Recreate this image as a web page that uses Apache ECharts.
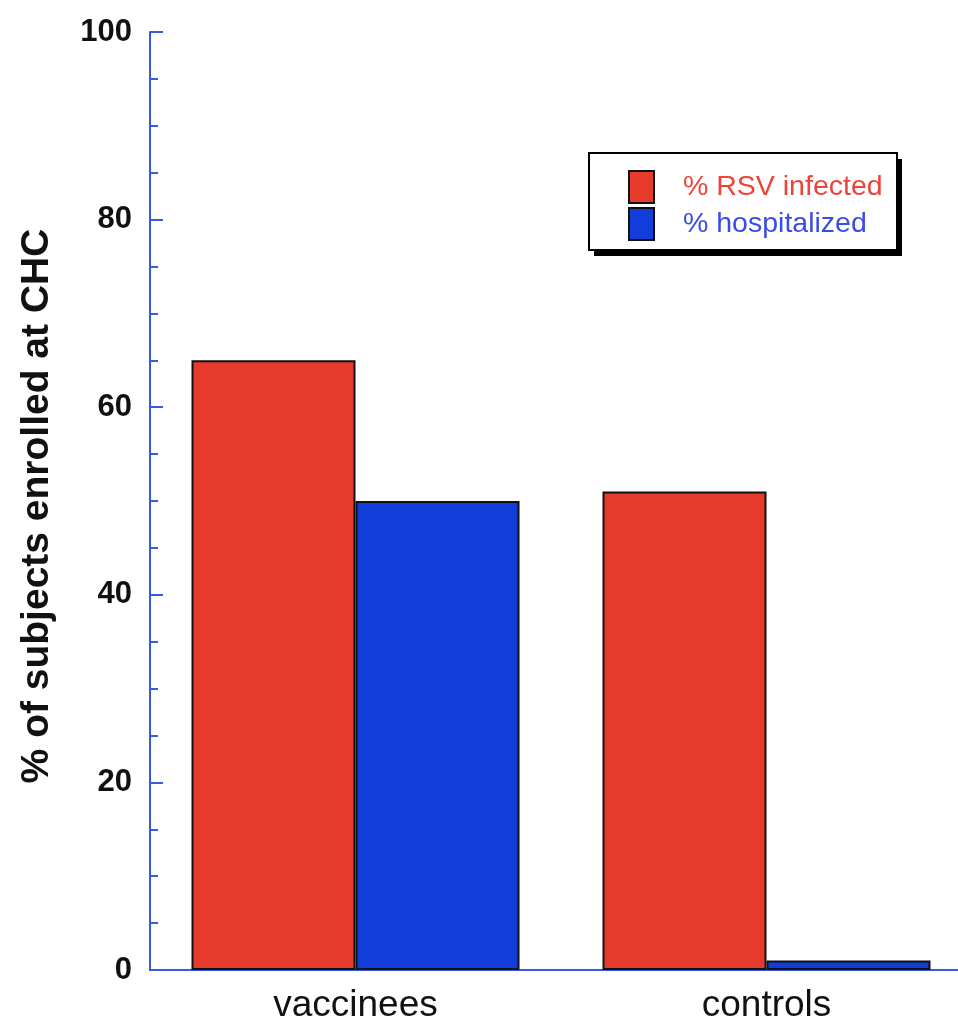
<!DOCTYPE html>
<html><head><meta charset="utf-8">
<script src="https://cdn.jsdelivr.net/npm/echarts@6/dist/echarts.min.js"></script>
<style>html,body{margin:0;padding:0;background:#fff}#c{width:958px;height:1021px}</style>
</head><body><div id="c"></div>
<script>
const categories = ['vaccinees', 'controls'];
const seriesNames = ['% RSV infected', '% hospitalized'];
const rsvInfected = [65, 51];
const hospitalized = [50, 1];
const yTicks = { min: 0, max: 100, interval: 20 };
const yTitle = '% of subjects enrolled at CHC';

const RED = '#e53a2c', BLUE = '#133ddb', AXIS = '#3858e8';
const FONT = 'Liberation Sans, Arial, sans-serif';
const chart = echarts.init(document.getElementById('c'));
chart.setOption({
  animation: false,
  backgroundColor: '#fff',
  grid: { left: 150, top: 32, bottom: 51, width: 822, containLabel: false, outerBoundsMode: 'none' },
  graphic: [
    { type: 'rect', z: 90, shape: { x: 594, y: 159, width: 308, height: 97 }, style: { fill: '#000' } },
    { type: 'rect', z: 91, shape: { x: 589, y: 153, width: 308, height: 97 }, style: { fill: '#fff', stroke: '#000', lineWidth: 2 } }
  ],
  legend: {
    orient: 'vertical', left: 628, top: 170, padding: 0, z: 100,
    itemWidth: 25, itemHeight: 32, itemGap: 3, itemTextGap: 29,
    icon: 'rect',
    textStyle: { fontFamily: FONT, fontSize: 28.5, padding: [0, 0, 0, 24] },
    data: [
      { name: seriesNames[0], textStyle: { color: '#ec4438' } },
      { name: seriesNames[1], textStyle: { color: '#3a4ce6' } }
    ]
  },
  xAxis: {
    type: 'category', data: categories,
    axisLine: { lineStyle: { color: AXIS, width: 2 } },
    axisTick: { show: false },
    axisLabel: { color: '#111', fontSize: 37, fontFamily: FONT, margin: 17 }
  },
  yAxis: {
    type: 'value', min: yTicks.min, max: yTicks.max, interval: yTicks.interval,
    name: yTitle, nameLocation: 'middle', nameRotate: 90, nameGap: 93,
    nameTextStyle: { color: '#111', fontSize: 39, fontWeight: 'bold', fontFamily: FONT, padding: [0, 10, 0, 0] },
    axisLine: { show: true, lineStyle: { color: AXIS, width: 2 } },
    axisTick: { show: true, inside: true, length: 13, lineStyle: { color: AXIS, width: 2 } },
    minorTick: { show: true, splitNumber: 4, length: 8, lineStyle: { color: AXIS, width: 2 } },
    splitLine: { show: false },
    axisLabel: { color: '#111', fontSize: 31, fontWeight: 'bold', fontFamily: FONT, margin: 18 }
  },
  series: [
    { name: seriesNames[0], type: 'bar', data: rsvInfected, barWidth: 164, barGap: '0%',
      itemStyle: { color: RED, borderColor: '#111', borderWidth: 2 } },
    { name: seriesNames[1], type: 'bar', data: hospitalized, barWidth: 164, barGap: '0%',
      itemStyle: { color: BLUE, borderColor: '#111', borderWidth: 2 } }
  ]
});
</script></body></html>
